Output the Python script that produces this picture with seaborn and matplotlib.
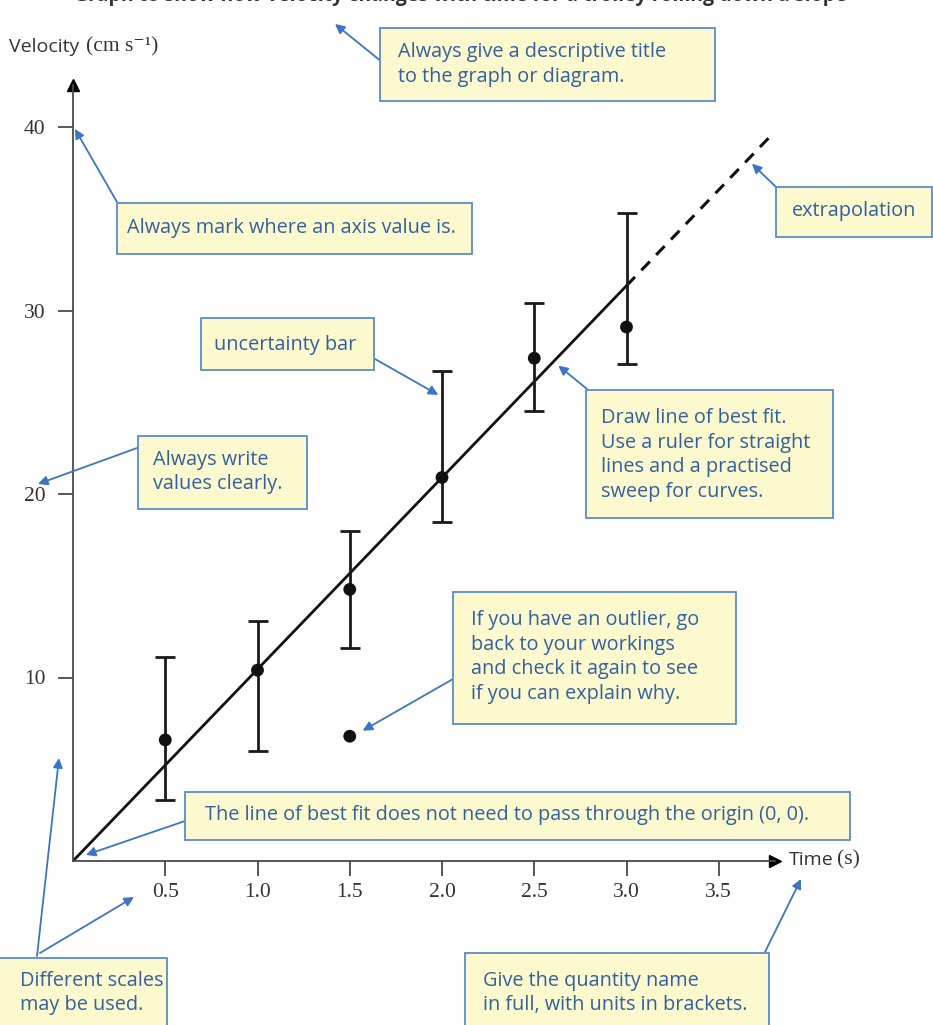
import matplotlib
matplotlib.use("Agg")
import matplotlib.pyplot as plt
from matplotlib.patches import Rectangle
import seaborn as sns
import pandas as pd

# measured velocities with their uncertainty ranges
time_s = [0.5, 1.0, 1.5, 2.0, 2.5, 3.0]
velocity = [6.6, 10.4, 14.8, 20.9, 27.4, 29.1]
err_low = [3.3, 6.0, 11.6, 18.5, 24.5, 27.1]
err_high = [11.1, 13.1, 18.0, 26.7, 30.4, 35.3]

# anomalous reading
outlier_t = [1.5]
outlier_v = [6.8]

# line of best fit through the origin, then extrapolated
fit_slope = 10.45
fit_t = [0.0, 3.0]
extrap_t = [3.0, 3.78]

x_ticks = [0.5, 1.0, 1.5, 2.0, 2.5, 3.0, 3.5]
x_tick_labels = ["0.5", "1.0", "1.5", "2.0", "2.5", "3.0", "3.5"]
y_ticks = [10, 20, 30, 40]
y_tick_labels = ["10", "20", "30", "40"]

W, H = 933, 1025
sns.set_theme(style="white")
plt.rcParams["font.family"] = ["Open Sans", "DejaVu Sans"]

fig = plt.figure(figsize=(W / 100, H / 100), dpi=100)
fig.patch.set_facecolor("white")

axis_grey = "#4a4a4a"
label_grey = "#333333"

# axes: origin at (73, 861) px, arrows end near x=775 px, y=85 px
ox, oy, ax_right, ax_top = 73, 861, 775, 85
ax = fig.add_axes([ox / W, 1 - oy / H, (ax_right - ox) / W, (oy - ax_top) / H])
ax.set_xlim(0, (ax_right - ox) / 184.5)
ax.set_ylim(0, (oy - ax_top) / 18.35)
ax.set_facecolor("none")
for side in ("top", "right"):
    ax.spines[side].set_visible(False)
for side in ("left", "bottom"):
    ax.spines[side].set_color(axis_grey)
    ax.spines[side].set_linewidth(1.3)

serif = ["Liberation Serif", "DejaVu Serif"]
ax.set_xticks(x_ticks)
ax.set_xticklabels(x_tick_labels, family=serif, fontsize=15.5, color=label_grey)
ax.set_yticks(y_ticks)
ax.set_yticklabels(y_tick_labels, family=serif, fontsize=15.5, color=label_grey)
ax.tick_params(axis="both", direction="out", length=11, width=1.3,
               color=axis_grey, bottom=True, left=True)
ax.tick_params(axis="x", pad=5)
ax.tick_params(axis="y", pad=9)

# arrowheads on the axes
ax.plot(1, 0, marker=">", color="black", markersize=8,
        transform=ax.get_yaxis_transform(), clip_on=False)
ax.plot(0, 1, marker="^", color="black", markersize=8,
        transform=ax.get_xaxis_transform(), clip_on=False)

# best-fit line and extrapolation
fit_df = pd.DataFrame({"t": fit_t, "v": [fit_slope * t for t in fit_t]})
ext_df = pd.DataFrame({"t": extrap_t, "v": [fit_slope * t for t in extrap_t]})
sns.lineplot(data=fit_df, x="t", y="v", ax=ax, color="#111111", linewidth=2.0)
sns.lineplot(data=ext_df, x="t", y="v", ax=ax, color="#111111", linewidth=2.2,
             linestyle=(0, (4, 3)))

# uncertainty bars
lower = [v - lo for v, lo in zip(velocity, err_low)]
upper = [hi - v for v, hi in zip(velocity, err_high)]
ax.errorbar(time_s, velocity, yerr=[lower, upper], fmt="none",
            ecolor="#1a1a1a", elinewidth=2.0, capsize=7, capthick=2.0, zorder=3)

pts = pd.DataFrame({"t": time_s + outlier_t, "v": velocity + outlier_v})
sns.scatterplot(data=pts, x="t", y="v", ax=ax, color="#111111", s=85,
                edgecolor="none", zorder=4)
ax.set_xlabel("")
ax.set_ylabel("")

# axis titles
fig.text(9 / W, 1 - 47 / H, "Velocity", fontsize=14, color=label_grey,
         va="center", ha="left")
fig.text(86 / W, 1 - 47 / H, "(cm s⁻¹)", family=serif, fontsize=15.5,
         color=label_grey, va="center", ha="left")
fig.text(789 / W, 1 - 860 / H, "Time", fontsize=14, color=label_grey,
         va="center", ha="left")
fig.text(837 / W, 1 - 860 / H, "(s)", family=serif, fontsize=15.5,
         color=label_grey, va="center", ha="left")

# heading running off the top edge
fig.text(460 / W, 1 - 1.5 / H, "Graph to show how velocity changes with time for a trolley rolling down a slope",
         fontsize=14, color="#333333", ha="center", va="baseline", fontweight="bold")

box_fill = "#fcf9cf"
box_edge = "#5b8ccf"
note_color = "#33609e"
arrow_color = "#3f74c2"


def fx(x, y):
    return (x / W, 1 - y / H)


def note(x0, y0, x1, y1, tx, ty, text):
    fig.add_artist(Rectangle(fx(x0, y1), (x1 - x0) / W, (y1 - y0) / H,
                             transform=fig.transFigure, facecolor=box_fill,
                             edgecolor=box_edge, linewidth=1.3, zorder=5))
    fig.text(tx / W, 1 - ty / H, text, fontsize=14.3, color=note_color,
             ha="left", va="center", linespacing=1.3, zorder=6)


def pointer(tail, tip, tip_in_data=False):
    kw = dict(xycoords="data" if tip_in_data else "figure fraction")
    ax.annotate("", xy=tip if tip_in_data else fx(*tip), xytext=fx(*tail),
                textcoords="figure fraction", annotation_clip=False,
                arrowprops=dict(arrowstyle="-|>", color=arrow_color, lw=1.3,
                                mutation_scale=14, shrinkA=0, shrinkB=0),
                zorder=7, **kw)


note(380, 28, 715, 101, 398, 64.5, "Always give a descriptive title\nto the graph or diagram.")
pointer((382, 62), (335, 24))

note(117, 203, 472, 254, 127, 228, "Always mark where an axis value is.")
pointer((117, 202), (0.01, 39.9), tip_in_data=True)

note(776, 187, 932, 237, 792, 211, "extrapolation")
pointer((776, 187), (3.68, 38.0), tip_in_data=True)

note(201, 318, 374, 370, 214, 345, "uncertainty bar")
pointer((375, 359), (1.98, 25.4), tip_in_data=True)

note(586, 390, 833, 518, 601, 455, "Draw line of best fit.\nUse a ruler for straight\nlines and a practised\nsweep for curves.")
pointer((587, 389), (2.63, 27.0), tip_in_data=True)

note(138, 436, 307, 509, 153, 472, "Always write\nvalues clearly.")
pointer((137, 448), (38, 484))

note(453, 592, 736, 724, 471, 657, "If you have an outlier, go\nback to your workings\nand check it again to see\nif you can explain why.")
pointer((453, 679), (1.57, 7.1), tip_in_data=True)

note(185, 792, 850, 840, 205, 815, "The line of best fit does not need to pass through the origin (0, 0).")
pointer((185, 821), (0.07, 0.33), tip_in_data=True)

note(-2, 958, 167, 1030, 20, 993, "Different scales\nmay be used.")
pointer((37, 956), (59, 758))
pointer((40, 953), (134, 897))

note(465, 953, 769, 1030, 483, 993, "Give the quantity name\nin full, with units in brackets.")
pointer((765, 952), (801, 879))

fig.savefig("out.png", dpi=100, facecolor="white")
